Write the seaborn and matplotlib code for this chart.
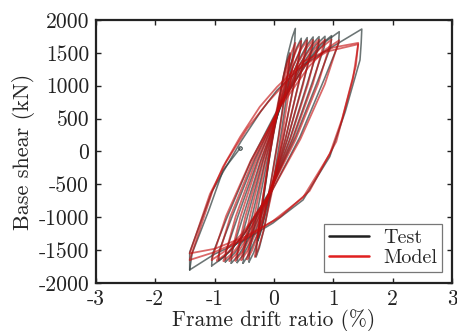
import matplotlib
matplotlib.use("Agg")
import matplotlib.pyplot as plt
from matplotlib.lines import Line2D
import pandas as pd
import seaborn as sns

# ---- hysteresis loops: (drift ratio %, base shear kN) ----
# Test specimen: one closed loop per drift level (negative peak -> positive peak -> back)
test_loop_1 = [(-0.27, -1350), (-0.26, -1190), (-0.19, -780), (-0.073, -67), (0.058, 645), (0.168, 1158), (0.228, 1386), (0.27, 1500),
               (0.26, 1340), (0.19, 930), (0.073, 218), (-0.058, -495), (-0.168, -1008), (-0.228, -1236), (-0.27, -1350)]
test_loop_2 = [(-0.30, -1600), (-0.29, -1440), (-0.207, -906), (-0.067, -38), (0.092, 829), (0.228, 1454), (0.306, 1731), (0.36, 1870),
               (0.35, 1660), (0.267, 1176), (0.127, 309), (-0.032, -559), (-0.168, -1184), (-0.246, -1461), (-0.30, -1600)]
test_loop_3 = [(-0.42, -1680), (-0.41, -1520), (-0.299, -1000), (-0.116, -150), (0.096, 700), (0.279, 1312), (0.385, 1584), (0.46, 1720),
               (0.45, 1560), (0.339, 1040), (0.156, 190), (-0.056, -660), (-0.239, -1272), (-0.345, -1544), (-0.42, -1680)]
test_loop_4 = [(-0.52, -1700), (-0.51, -1540), (-0.376, -1014), (-0.154, -157), (0.106, 701), (0.333, 1318), (0.465, 1593), (0.56, 1730),
               (0.55, 1570), (0.416, 1044), (0.194, 187), (-0.066, -671), (-0.293, -1288), (-0.425, -1563), (-0.52, -1700)]
test_loop_5 = [(-0.62, -1690), (-0.61, -1530), (-0.452, -1004), (-0.191, -147), (0.116, 711), (0.386, 1328), (0.545, 1603), (0.66, 1740),
               (0.65, 1580), (0.492, 1054), (0.231, 197), (-0.076, -661), (-0.346, -1278), (-0.505, -1553), (-0.62, -1690)]
test_loop_6 = [(-0.72, -1700), (-0.71, -1540), (-0.529, -1011), (-0.229, -150), (0.126, 712), (0.440, 1332), (0.625, 1607), (0.76, 1745),
               (0.75, 1585), (0.569, 1056), (0.269, 195), (-0.086, -667), (-0.40, -1287), (-0.585, -1562), (-0.72, -1700)]
test_loop_7 = [(-0.82, -1680), (-0.81, -1520), (-0.611, -994), (-0.276, -137), (0.126, 721), (0.486, 1338), (0.701, 1613), (0.86, 1750),
               (0.85, 1590), (0.651, 1064), (0.316, 207), (-0.086, -651), (-0.446, -1268), (-0.661, -1543), (-0.82, -1680)]
test_loop_8 = [(-0.93, -1660), (-0.92, -1500), (-0.699, -976), (-0.323, -121), (0.13, 734), (0.540, 1350), (0.786, 1623), (0.97, 1760),
               (0.96, 1600), (0.739, 1076), (0.363, 221), (-0.09, -634), (-0.50, -1250), (-0.746, -1523), (-0.93, -1660)]
test_loop_9 = [(-1.05, -1740), (-1.04, -1570), (-0.802, -1028), (-0.386, -138), (0.125, 752), (0.595, 1393), (0.882, 1678), (1.10, 1820),
               (1.09, 1640), (0.852, 1108), (0.436, 218), (-0.075, -672), (-0.545, -1313), (-0.832, -1598), (-1.05, -1740)]
test_loop_10 = [(-1.42, -1800), (-1.42, -1530), (-1.05, -620), (-0.85, -300), (-0.55, 160), (-0.22, 610), (0.05, 930), (0.50, 1320),
                (1.00, 1600), (1.48, 1860), (1.47, 1650), (1.45, 1390), (1.20, 600), (0.94, -80), (0.49, -737), (-0.02, -1090),
                (-0.50, -1350), (-1.00, -1560), (-1.42, -1800)]
test_tail = [(-1.42, -1800), (-1.38, -1550), (-1.10, -900), (-0.86, -290), (-0.57, 50)]

# Numerical model, same drift levels
model_loop_1 = [(-0.27, -1300), (-0.195, -744), (-0.082, -49), (0.048, 646), (0.16, 1146), (0.224, 1369), (0.27, 1480),
                (0.195, 924), (0.082, 229), (-0.048, -466), (-0.16, -966), (-0.224, -1189), (-0.27, -1300)]
model_loop_2 = [(-0.32, -1600), (-0.228, -950), (-0.088, -137), (0.076, 675), (0.218, 1260), (0.301, 1520), (0.36, 1650),
                (0.268, 1000), (0.128, 187), (-0.036, -625), (-0.178, -1210), (-0.261, -1470), (-0.32, -1600)]
model_loop_3 = [(-0.45, -1640), (-0.329, -976), (-0.142, -146), (0.077, 684), (0.268, 1282), (0.38, 1547), (0.46, 1680),
                (0.339, 1016), (0.152, 186), (-0.067, -644), (-0.259, -1242), (-0.37, -1507), (-0.45, -1640)]
model_loop_4 = [(-0.55, -1650), (-0.405, -982), (-0.18, -147), (0.087, 688), (0.322, 1289), (0.46, 1556), (0.56, 1690),
                (0.415, 1022), (0.19, 187), (-0.077, -648), (-0.312, -1249), (-0.45, -1516), (-0.55, -1650)]
model_loop_5 = [(-0.65, -1660), (-0.482, -989), (-0.217, -150), (0.097, 689), (0.375, 1292), (0.54, 1561), (0.66, 1695),
                (0.492, 1024), (0.227, 185), (-0.087, -654), (-0.365, -1257), (-0.53, -1526), (-0.65, -1660)]
model_loop_6 = [(-0.75, -1665), (-0.564, -992), (-0.264, -151), (0.097, 691), (0.421, 1296), (0.616, 1565), (0.76, 1700),
                (0.574, 1027), (0.274, 186), (-0.087, -656), (-0.411, -1261), (-0.606, -1530), (-0.75, -1665)]
model_loop_7 = [(-0.85, -1665), (-0.646, -992), (-0.311, -151), (0.097, 691), (0.467, 1296), (0.692, 1565), (0.86, 1700),
                (0.656, 1027), (0.321, 186), (-0.087, -656), (-0.458, -1261), (-0.682, -1530), (-0.85, -1665)]
model_loop_8 = [(-0.96, -1660), (-0.734, -988), (-0.359, -148), (0.101, 692), (0.521, 1297), (0.777, 1566), (0.97, 1700),
                (0.744, 1028), (0.369, 188), (-0.091, -652), (-0.51, -1257), (-0.767, -1526), (-0.96, -1660)]
model_loop_9 = [(-1.05, -1650), (-0.807, -982), (-0.395, -147), (0.115, 688), (0.587, 1289), (0.878, 1556), (1.10, 1690),
                (0.857, 1022), (0.445, 187), (-0.065, -648), (-0.537, -1249), (-0.828, -1516), (-1.05, -1650)]
model_loop_10 = [(-1.42, -1650), (-1.03, -585), (-0.86, -235), (-0.57, 220), (-0.24, 677), (0.05, 980), (0.50, 1370),
                 (1.00, 1580), (1.42, 1650), (1.38, 1300), (1.15, 500), (0.94, -40), (0.49, -700), (-0.02, -1060),
                 (-0.50, -1330), (-1.00, -1530), (-1.42, -1650)]
model_loop_11 = [(-1.42, -1550), (-1.08, -650), (-0.80, -150), (-0.45, 350), (-0.10, 750), (0.40, 1250), (0.90, 1520),
                 (1.42, 1630), (1.33, 1100), (1.05, 150), (0.60, -600), (0.10, -1000), (-0.50, -1300), (-1.00, -1480),
                 (-1.42, -1550)]

test_loops = [test_loop_1, test_loop_2, test_loop_3, test_loop_4, test_loop_5, test_loop_6,
              test_loop_7, test_loop_8, test_loop_9, test_loop_10, test_tail]
model_loops = [model_loop_1, model_loop_2, model_loop_3, model_loop_4, model_loop_5, model_loop_6,
               model_loop_7, model_loop_8, model_loop_9, model_loop_10, model_loop_11]


def to_frame(loops):
    rows = []
    for k, loop in enumerate(loops):
        for i, (d, v) in enumerate(loop):
            rows.append({"cycle": k, "order": i, "drift": d, "shear": v})
    return pd.DataFrame(rows)


test_df = to_frame(test_loops)
model_df = to_frame(model_loops)

sns.set_theme(style="ticks")
plt.rcParams["font.family"] = ["cmr10", "DejaVu Serif"]
plt.rcParams["axes.unicode_minus"] = False
plt.rcParams["mathtext.fontset"] = "cm"

fig = plt.figure(figsize=(4.57, 3.31), dpi=100)
ax = fig.add_axes([0.210, 0.145, 0.779, 0.795])

test_color = "#344040"
model_color = "#c40c0c"

sns.lineplot(data=test_df, x="drift", y="shear", units="cycle", estimator=None, sort=False,
             color=test_color, lw=1.15, alpha=0.72, ax=ax, legend=False)
sns.lineplot(data=model_df, x="drift", y="shear", units="cycle", estimator=None, sort=False,
             color=model_color, lw=1.3, alpha=0.62, ax=ax, legend=False)
# end of the test record
ax.plot(test_tail[-1][0], test_tail[-1][1], marker="o", ms=2.5, mfc="none", mec=test_color, mew=0.8)

ax.set_xlim(-3, 3)
ax.set_ylim(-2000, 2000)
ax.set_xticks([-3, -2, -1, 0, 1, 2, 3])
ax.set_yticks([-2000, -1500, -1000, -500, 0, 500, 1000, 1500, 2000])
ax.tick_params(direction="in", length=3.5, width=1.0, top=True, right=True,
               labelsize=15.5, colors="#222222", pad=5)
for s in ax.spines.values():
    s.set_linewidth(1.6)
    s.set_color("#222222")

ax.set_xlabel("Frame drift ratio (%)", fontsize=15.5, labelpad=0)
ax.set_ylabel("Base shear (kN)", fontsize=16, labelpad=2)

handles = [Line2D([0], [0], color="#202020", lw=1.8),
           Line2D([0], [0], color="#e02020", lw=1.8)]
leg = ax.legend(handles, ["Test", "Model"], loc="lower right", fontsize=14.5,
                fancybox=False, frameon=True, edgecolor="#777777", framealpha=1,
                handlelength=2.0, handletextpad=0.7, borderpad=0.25, labelspacing=0.1,
                borderaxespad=0, bbox_to_anchor=(0.972, 0.04))
leg.get_frame().set_linewidth(0.9)

fig.savefig("out.png", dpi=100)
